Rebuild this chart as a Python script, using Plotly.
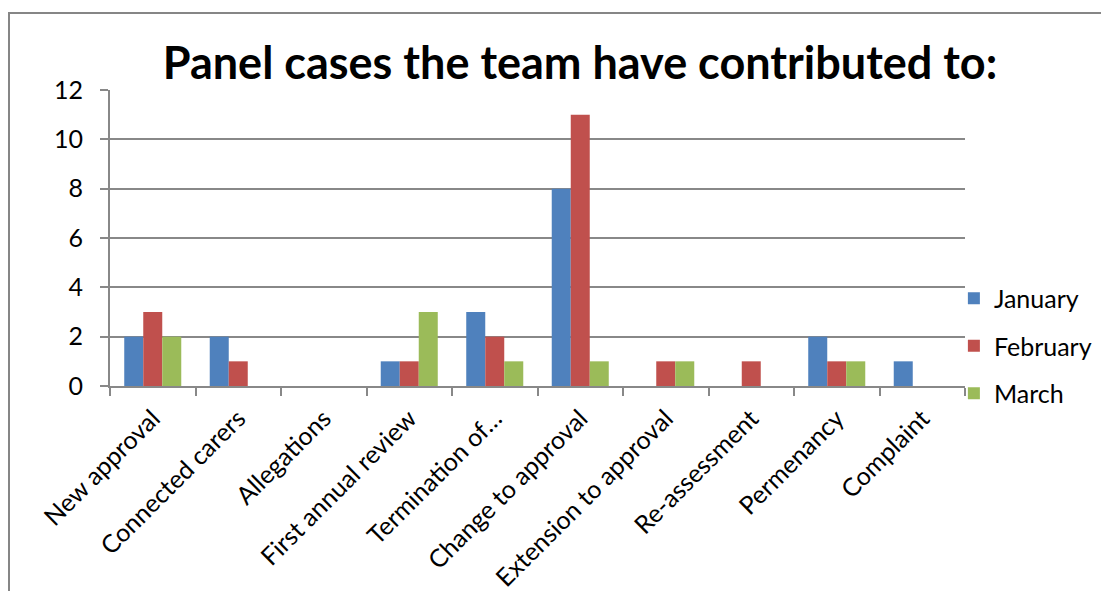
import plotly.graph_objects as go

categories = ['New approval', 'Connected carers', 'Allegations', 'First annual review',
              'Termination of…', 'Change to approval', 'Extension to approval',
              'Re-assessment', 'Permenancy', 'Complaint']
january = [2, 2, 0, 1, 3, 8, 0, 0, 2, 1]
february = [3, 1, 0, 1, 2, 11, 1, 1, 1, 0]
march = [2, 0, 0, 3, 1, 1, 1, 0, 1, 0]

series = [('January', january, '#4F81BD'),
          ('February', february, '#C0504D'),
          ('March', march, '#9BBB59')]

FONT = 'Lato, Calibri, sans-serif'
GRID = '#888888'

fig = go.Figure()
for i, (name, vals, color) in enumerate(series):
    fig.add_trace(go.Bar(x=categories, y=vals, name=name, marker_color=color,
                         marker_line_width=0, legendgroup=str(i)))

fig.update_layout(
    width=1101, height=591,
    paper_bgcolor='white', plot_bgcolor='white',
    margin=dict(l=110, r=136, t=90, b=205, autoexpand=False),
    font=dict(family=FONT, size=25, color='black'),
    title=dict(text='<b>Panel cases the team have contributed to:</b>',
               font=dict(family=FONT, size=45, color='black'),
               x=580 / 1101, xanchor='center', xref='container',
               y=1 - 47 / 591, yanchor='top', yref='container'),
    barmode='group', bargap=0.333, bargroupgap=0,
    legend=dict(x=0.987, xanchor='left', y=0.135, yanchor='middle',
                font=dict(family=FONT, size=25), tracegroupgap=12,
                itemwidth=30, bgcolor='rgba(0,0,0,0)'),
    showlegend=True,
)
fig.update_yaxes(range=[0, 12], dtick=2, showgrid=True, gridcolor=GRID, gridwidth=1.5,
                 showline=True, linecolor=GRID, linewidth=2,
                 ticks='outside', ticklen=8, tickcolor=GRID, tickwidth=2,
                 zeroline=False, tickfont=dict(size=25), ticklabelstandoff=12,
                 automargin=False)
fig.update_xaxes(tickangle=-45, showline=True, linecolor=GRID, linewidth=2,
                 ticks='outside', ticklen=8, tickcolor=GRID, tickwidth=2,
                 tickson='boundaries', showgrid=False, tickfont=dict(size=25),
                 ticklabelstandoff=6, automargin=False)

# chart border (Excel chart area frame, cropped on right/bottom)
fig.add_shape(type='rect', xref='paper', yref='paper',
              x0=(9 - 110) / 855, x1=1.3, y0=-0.9, y1=(386 - 13) / 296,
              line=dict(color='#868686', width=2), layer='below')

fig.write_html('out.html', config={'displayModeBar': False},
               post_script="document.body.style.margin='0';")
